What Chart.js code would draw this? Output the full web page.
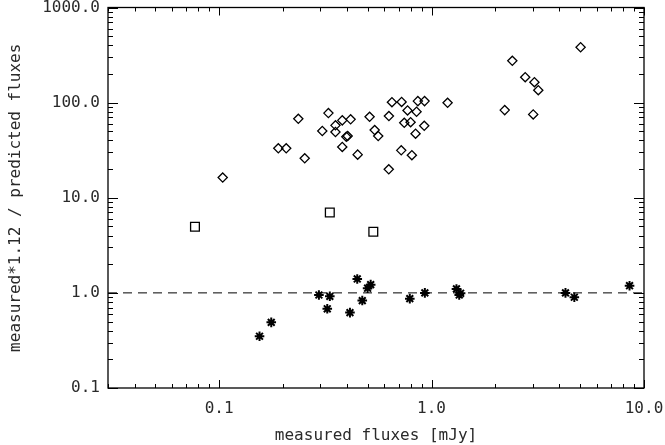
<!DOCTYPE html>
<html>
<head>
<meta charset="utf-8">
<script src="https://cdn.jsdelivr.net/npm/chart.js@4.4.1/dist/chart.umd.min.js"></script>
<style>
    html, body { margin: 0; padding: 0; background: #fff; }
    #wrap { width: 665px; height: 445px; }
</style>
</head>
<body>
<div id="wrap"><canvas id="fluxChart" width="665" height="445"></canvas></div>
<script>
// values
const diamondX = [0.104, 0.190, 0.207, 0.236, 0.253, 0.306, 0.327, 0.353, 0.353, 0.380,
                  0.416, 0.397, 0.403, 0.380, 0.449, 0.511, 0.540, 0.561, 0.630, 0.629,
                  0.651, 0.723, 0.720, 0.744, 0.797, 0.771, 0.850, 0.808, 0.841, 0.862,
                  0.927, 0.924, 1.19, 2.21, 2.40, 2.76, 3.01, 3.05, 3.18, 5.03];
const diamondY = [16.3, 33.1, 33.1, 67.6, 26.0, 50.3, 77.6, 57.7, 49.1, 65.1,
                  66.7, 43.8, 44.5, 34.2, 28.4, 71.0, 51.5, 44.5, 72.3, 19.9,
                  101, 101.7, 31.5, 61.4, 62.3, 82.8, 80.2, 28.0, 47.1, 103.7,
                  103.7, 57.1, 99.6, 83.4, 275, 185, 75.2, 164, 135, 382];
const squareX = [0.077, 0.332, 0.532];
const squareY = [4.95, 7.0, 4.39];
const starX = [0.155, 0.176, 0.295, 0.332, 0.323, 0.413, 0.447, 0.472, 0.50, 0.517,
               0.79, 0.93, 1.31, 1.37, 1.35, 4.27, 4.7, 8.55];
const starY = [0.35, 0.49, 0.95, 0.92, 0.68, 0.62, 1.40, 0.83, 1.12, 1.22,
               0.87, 1.0, 1.10, 0.99, 0.95, 1.0, 0.90, 1.19];
const refLevel = 1.0;
const xRange = [0.03, 10];
const yRange = [0.1, 1000];
const xTicks = [0.1, 1, 10];
const yTicks = [0.1, 1, 10, 100, 1000];

const FONT = { family: 'DejaVu Sans Mono', size: 16 };
const INK = '#2a2a2a';

function toPoints(xs, ys) {
    return xs.map((x, i) => ({ x: x, y: ys[i] }));
}

function minorValues(min, max) {
    const out = [];
    for (let d = Math.floor(Math.log10(min)); d <= Math.ceil(Math.log10(max)); d++) {
        for (let k = 1; k <= 9; k++) {
            const v = k * Math.pow(10, d);
            if (v >= min * 0.999 && v <= max * 1.001) out.push({ v: v, major: k === 1 });
        }
    }
    return out;
}

// IDL style box with inward ticks on all four sides
const boxTicks = {
    id: 'boxTicks',
    afterDatasetsDraw(chart) {
        const { ctx, chartArea: a, scales } = chart;
        ctx.save();
        ctx.strokeStyle = '#000';
        ctx.lineWidth = 1.3;
        ctx.strokeRect(a.left, a.top, a.right - a.left, a.bottom - a.top);
        ctx.lineWidth = 1;
        ctx.beginPath();
        minorValues(xRange[0], xRange[1]).forEach(t => {
            const px = Math.round(scales.x.getPixelForValue(t.v)) + 0.5;
            const len = t.major ? 8 : 4;
            ctx.moveTo(px, a.bottom); ctx.lineTo(px, a.bottom - len);
            ctx.moveTo(px, a.top); ctx.lineTo(px, a.top + len);
        });
        minorValues(yRange[0], yRange[1]).forEach(t => {
            const py = Math.round(scales.y.getPixelForValue(t.v)) + 0.5;
            const len = t.major ? 10 : 5;
            ctx.moveTo(a.left, py); ctx.lineTo(a.left + len, py);
            ctx.moveTo(a.right, py); ctx.lineTo(a.right - len, py);
        });
        ctx.stroke();
        ctx.restore();
    }
};

const ctx = document.getElementById('fluxChart').getContext('2d');
new Chart(ctx, {
    type: 'scatter',
    data: {
        datasets: [
            {
                label: 'ratio 1',
                type: 'line',
                data: toPoints(xRange, [refLevel, refLevel]),
                borderColor: '#000',
                borderWidth: 1,
                borderDash: [9, 6],
                pointRadius: 0,
                fill: false,
                order: 4
            },
            {
                label: 'diamonds',
                data: toPoints(diamondX, diamondY),
                pointStyle: 'rectRot',
                pointRadius: 4.6,
                borderColor: '#000',
                backgroundColor: 'rgba(255,255,255,0)',
                borderWidth: 1.3,
                order: 3
            },
            {
                label: 'squares',
                data: toPoints(squareX, squareY),
                pointStyle: 'rect',
                pointRadius: 6.2,
                borderColor: '#000',
                backgroundColor: 'rgba(255,255,255,0)',
                borderWidth: 1.3,
                order: 2
            },
            {
                label: 'stars',
                data: toPoints(starX, starY),
                pointStyle: 'star',
                pointRadius: 4.8,
                borderColor: '#000',
                borderWidth: 2,
                order: 1
            }
        ]
    },
    options: {
        responsive: false,
        animation: false,
        layout: { padding: { left: 0, top: 6, right: 21, bottom: 0 } },
        plugins: {
            legend: { display: false },
            tooltip: { enabled: false }
        },
        scales: {
            x: {
                type: 'logarithmic',
                min: xRange[0],
                max: xRange[1],
                grid: { display: false, drawTicks: false },
                border: { display: false },
                afterBuildTicks: s => { s.ticks = xTicks.map(v => ({ value: v })); },
                afterFit: s => { s.height = 57; s.paddingLeft = 0; s.paddingRight = 0; },
                ticks: {
                    autoSkip: false,
                    maxRotation: 0,
                    padding: 11,
                    color: INK,
                    font: FONT,
                    callback: v => Number(v).toFixed(1)
                },
                title: {
                    display: true,
                    text: 'measured fluxes [mJy]',
                    color: INK,
                    font: FONT,
                    padding: { top: 0, bottom: 0 }
                }
            },
            y: {
                type: 'logarithmic',
                min: yRange[0],
                max: yRange[1],
                grid: { display: false, drawTicks: false },
                border: { display: false },
                afterBuildTicks: s => { s.ticks = yTicks.map(v => ({ value: v })); },
                afterFit: s => { s.width = 108; s.paddingTop = 0; s.paddingBottom = 0; },
                ticks: {
                    autoSkip: false,
                    padding: 8,
                    color: INK,
                    font: FONT,
                    callback: v => Number(v).toFixed(1)
                },
                title: {
                    display: true,
                    text: 'measured*1.12 / predicted fluxes',
                    color: INK,
                    font: FONT,
                    padding: { top: 6, bottom: 0 }
                }
            }
        }
    },
    plugins: [boxTicks]
});
</script>
</body>
</html>
